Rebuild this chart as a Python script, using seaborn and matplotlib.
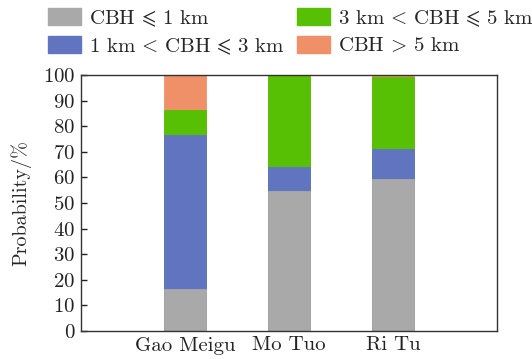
import matplotlib
matplotlib.use("Agg")
import matplotlib.pyplot as plt
from matplotlib.patches import Patch
import seaborn as sns
import pandas as pd
import numpy as np

sites = ["Gao Meigu", "Mo Tuo", "Ri Tu"]
low = [16.4, 54.8, 59.4]        # CBH <= 1 km
mid = [60.2, 9.4, 11.7]         # 1 km < CBH <= 3 km
high = [9.8, 35.8, 28.1]        # 3 km < CBH <= 5 km
top = [13.6, 0.0, 0.8]          # CBH > 5 km

labels = [r"CBH$\,\leqslant\,$1 km", r"1 km$\,<\,$CBH$\,\leqslant\,$3 km",
          r"3 km$\,<\,$CBH$\,\leqslant\,$5 km", r"CBH$\,>\,$5 km"]
colors = ["#a9a9a9", "#6074c0", "#57bf04", "#f09068"]

sns.set_style("ticks")
plt.rcParams["font.family"] = "serif"
plt.rcParams["font.serif"] = ["cmr10", "DejaVu Serif"]
plt.rcParams["mathtext.fontset"] = "cm"
plt.rcParams["axes.formatter.use_mathtext"] = True

fig = plt.figure(figsize=(5.32, 3.59), dpi=100)
ax = fig.add_axes([0.152, 0.078, 0.782, 0.713])

# stacked bars: draw cumulative totals from the top layer down
layers = np.array([low, mid, high, top])
cum = np.cumsum(layers, axis=0)
for i in reversed(range(4)):
    df = pd.DataFrame({"site": sites, "value": cum[i]})
    sns.barplot(data=df, x="site", y="value", color=colors[i], width=0.4,
                saturation=1, ax=ax, edgecolor=colors[i], linewidth=0.6,
                zorder=2)
handles = [Patch(facecolor=c, edgecolor=c) for c in colors]

ax.set_xlim(-1, 3)
ax.set_ylim(0, 100)
ax.set_yticks(range(0, 101, 10))
ax.set_xlabel("")
ax.set_ylabel("Probability/%", fontsize=14.5, labelpad=8)
for s in ax.spines.values():
    s.set_color("#333333")
    s.set_linewidth(1.0)
    s.set_visible(True)
ax.tick_params(direction="in", length=4, width=1, colors="#222222",
               labelsize=15, pad=4)

fig.legend(handles, labels,
           ncol=2, loc="upper left", bbox_to_anchor=(0.055, 1.03),
           frameon=False, fontsize=15, handlelength=1.6, handleheight=0.85,
           handletextpad=0.35, columnspacing=0.6, labelspacing=0.35)

fig.savefig("out.png", dpi=100)
